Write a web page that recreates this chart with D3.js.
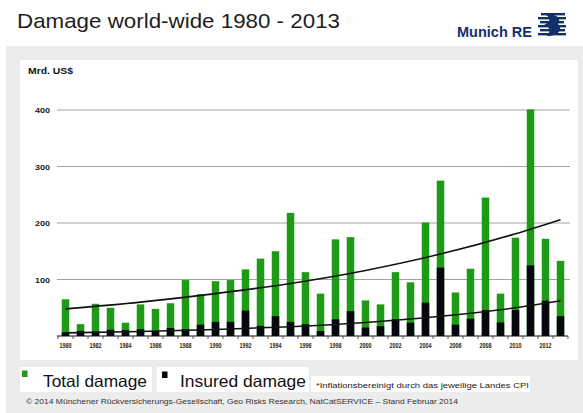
<!DOCTYPE html>
<html>
<head>
<meta charset="utf-8">
<script src="https://cdn.jsdelivr.net/npm/d3@7/dist/d3.min.js"></script>
<style>
  html, body { margin: 0; padding: 0; background: #fff; }
  svg { display: block; font-family: "Liberation Sans", Arial, Helvetica, sans-serif; }
</style>
</head>
<body>
<svg id="chart" width="583" height="413"></svg>
<script>
// Natural catastrophe losses, bn US$ (inflation-adjusted)
const years = [1980,1981,1982,1983,1984,1985,1986,1987,1988,1989,
               1990,1991,1992,1993,1994,1995,1996,1997,1998,1999,
               2000,2001,2002,2003,2004,2005,2006,2007,2008,2009,
               2010,2011,2012,2013];
const totalDamage = [65,21,57,50,23.5,56,48,58,99,74,
                     97,99,118,137,150,218,113,75,171,175,
                     63,56,113,95,201,275,77,119,245,75,
                     174,401,172,133];
const insuredDamage = [6.5,9,8,11,10.5,12,9,14,12,20,
                       25,25,45,18,35,25,21,9,29.5,44,
                       15,17.5,29.5,23.5,59,121,20,30.5,46,24,
                       46,125,62.5,35];
// Trend curves (year, value)
const totalTrend = [[1980,48],[1985,60],[1990,75],[1995,93],[2000,116],[2005,145],[2010,181],[2013,206]];
const insuredTrend = [[1980,5.5],[1985,8],[1990,11.5],[1995,16.5],[2000,24],[2005,35],[2010,50],[2013,62.5]];
const yTicks = [100,200,300,400];
const xLabelYears = [1980,1982,1984,1986,1988,1990,1992,1994,1996,1998,2000,2002,2004,2006,2008,2010,2012];

const svg = d3.select("#chart");
const GREEN = "#1f9a17", BLACK = "#07070f", NAVY = "#14306a";

// page background panels
svg.append("rect").attr("x",0).attr("y",0).attr("width",583).attr("height",413).attr("fill","#fff");
svg.append("rect").attr("x",6).attr("y",46).attr("width",577).attr("height",367).attr("fill","#ececec");
svg.append("rect").attr("x",20).attr("y",60).attr("width",558).attr("height",300).attr("fill","#fff");

// title
svg.append("text").attr("x",17).attr("y",28)
  .attr("font-size",21).attr("fill","#1e1e1e")
  .attr("textLength",323).attr("lengthAdjust","spacingAndGlyphs")
  .text("Damage world-wide 1980 - 2013");

// Munich RE brand mark
svg.append("text").attr("x",457).attr("y",37)
  .attr("font-size",14).attr("font-weight","bold").attr("fill",NAVY)
  .attr("textLength",75).attr("lengthAdjust","spacingAndGlyphs")
  .text("Munich RE");
const logo = svg.append("g").attr("fill",NAVY);
[[13,541,565],[17,538,566],[21,540,564],[25,538,566],[29,540,565],[33,538,566]].forEach(r => {
  logo.append("rect").attr("x",r[1]).attr("y",r[0]).attr("width",r[2]-r[1]).attr("height",2.4);
});
logo.append("path").attr("d","M545,14 C557,13 562,19 558,24 C563,29 559,36 547,36 C551,31 550,27 544,25 C551,22 551,18 545,14 Z");

// scales
const x = d3.scaleBand().domain(years).range([58,568]).paddingInner(0.5).paddingOuter(0.25);
const y = d3.scaleLinear().domain([0,400]).range([336,110]);
const step = x.step();

// unit label
svg.append("text").attr("x",28).attr("y",74)
  .attr("font-size",9).attr("font-weight","bold").attr("fill","#111")
  .attr("textLength",45).attr("lengthAdjust","spacingAndGlyphs")
  .text("Mrd. US$");

// gridlines + y labels
const yAxis = d3.axisLeft(y).tickValues(yTicks).tickSize(0).tickPadding(0).tickFormat(d3.format("d"));
const gy = svg.append("g").attr("transform","translate(50,0)").call(yAxis);
gy.select(".domain").remove();
gy.selectAll("text").attr("font-size",7.5).attr("font-weight","bold").attr("fill","#222")
  .attr("font-family","Liberation Sans, Arial, sans-serif")
  .attr("textLength",15).attr("lengthAdjust","spacingAndGlyphs").attr("dy","0.35em");
svg.append("g").selectAll("line").data(yTicks).join("line")
  .attr("x1",57).attr("x2",570).attr("y1",d=>y(d)).attr("y2",d=>y(d))
  .attr("stroke","#a3a3a3").attr("stroke-width",1);

// total damage bars
svg.append("g").selectAll("rect").data(years).join("rect")
  .attr("x",d=>x(d)).attr("width",x.bandwidth())
  .attr("y",(d,i)=>y(totalDamage[i])).attr("height",(d,i)=>y(0)-y(totalDamage[i]))
  .attr("fill",GREEN);
// insured damage bars
svg.append("g").selectAll("rect").data(years).join("rect")
  .attr("x",d=>x(d)).attr("width",x.bandwidth())
  .attr("y",(d,i)=>y(insuredDamage[i])).attr("height",(d,i)=>y(0)-y(insuredDamage[i]))
  .attr("fill",BLACK);

// x axis baseline + ticks
svg.append("line").attr("x1",57).attr("x2",568).attr("y1",y(0)).attr("y2",y(0))
  .attr("stroke","#111").attr("stroke-width",1.2);
svg.append("g").selectAll("line").data(years.concat([null])).join("line")
  .attr("x1",d=> d===null ? 568 : x(d)-step*0.25)
  .attr("x2",d=> d===null ? 568 : x(d)-step*0.25)
  .attr("y1",y(0)).attr("y2",y(0)+3)
  .attr("stroke","#333").attr("stroke-width",0.8);

const xAxis = d3.axisBottom(x).tickValues(xLabelYears).tickSize(0).tickPadding(0);
const gx = svg.append("g").attr("transform",`translate(0,${y(0)+7})`).call(xAxis);
gx.select(".domain").remove();
gx.selectAll("text").attr("font-size",7.5).attr("font-weight","bold").attr("fill","#1a1a1a")
  .attr("font-family","Liberation Sans, Arial, sans-serif")
  .attr("textLength",12).attr("lengthAdjust","spacingAndGlyphs");

// trend curves
const line = d3.line().x(d=>x(d[0])+x.bandwidth()/2).y(d=>y(d[1])).curve(d3.curveMonotoneX);
[totalTrend, insuredTrend].forEach(t => {
  svg.append("path").datum(t).attr("d",line)
    .attr("fill","none").attr("stroke","#111").attr("stroke-width",1.6);
});

// legend
svg.append("rect").attr("x",20).attr("y",367).attr("width",132).attr("height",25).attr("fill","#fff");
svg.append("rect").attr("x",157).attr("y",367).attr("width",152).attr("height",25).attr("fill","#fff");
svg.append("rect").attr("x",311).attr("y",376).attr("width",219).attr("height",16).attr("fill","#fff");
svg.append("rect").attr("x",22).attr("y",370.5).attr("width",5.5).attr("height",6.5).attr("fill",GREEN);
svg.append("rect").attr("x",162).attr("y",371.5).attr("width",5.5).attr("height",6.5).attr("fill",BLACK);
svg.append("text").attr("x",43).attr("y",387).attr("font-size",16.5).attr("fill","#111")
  .attr("textLength",104).attr("lengthAdjust","spacingAndGlyphs").text("Total damage");
svg.append("text").attr("x",180).attr("y",387).attr("font-size",16.5).attr("fill","#111")
  .attr("textLength",126).attr("lengthAdjust","spacingAndGlyphs").text("Insured damage");
svg.append("text").attr("x",316).attr("y",388).attr("font-size",7).attr("fill","#222")
  .attr("textLength",213).attr("lengthAdjust","spacingAndGlyphs")
  .text("*Inflationsbereinigt durch das jeweilige Landes CPI");
svg.append("text").attr("x",26).attr("y",404).attr("font-size",6.5).attr("fill","#333")
  .attr("textLength",432).attr("lengthAdjust","spacingAndGlyphs")
  .text("© 2014 Münchener Rückversicherungs-Gesellschaft, Geo Risks Research, NatCatSERVICE – Stand Februar 2014");
</script>
</body>
</html>
